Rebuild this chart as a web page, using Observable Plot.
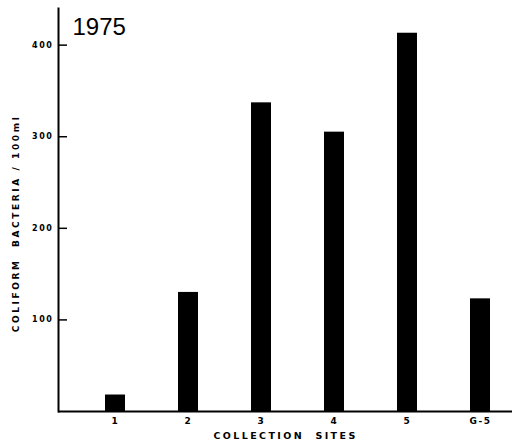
<!DOCTYPE html>
<html>
<head>
<meta charset="utf-8">
<script src="https://cdn.jsdelivr.net/npm/d3@7"></script>
<script src="https://cdn.jsdelivr.net/npm/@observablehq/plot@0.6"></script>
<style>
  html, body { margin: 0; padding: 0; background: #fff; }
  svg { display: block; }
  g[aria-label="y-axis tick label"] text,
  g[aria-label="x-axis tick label"] text { letter-spacing: 1.6px; }
  g[aria-description="ylabel"] text { letter-spacing: 2.6px; }
  g[aria-description="xlabel"] text { letter-spacing: 2.4px; }
</style>
</head>
<body>
<div id="chart"></div>
<script>
const sites = ["1", "2", "3", "4", "5", "G-5"];
const counts = [18, 130, 337, 305, 413, 123];
const yTicks = [100, 200, 300, 400];
const title = "1975";
const yTitle = "COLIFORM  BACTERIA / 100ml";
const xTitle = "COLLECTION  SITES";

const data = sites.map((s, i) => ({site: s, value: counts[i]}));

const font = "'DejaVu Sans', sans-serif";

const chart = Plot.plot({
  width: 518,
  height: 446,
  marginLeft: 58,
  marginRight: 6,
  marginTop: 8,
  marginBottom: 35,
  style: {fontFamily: font, background: "#fff", color: "#000"},
  x: {domain: sites, range: [77.3, 517.7], paddingInner: 0.73, paddingOuter: 0.365},
  y: {domain: [0, 440]},
  marks: [
    Plot.barY(data, {x: "site", y: "value", fill: "#000"}),
    Plot.ruleY([0], {stroke: "#000", strokeWidth: 2}),
    Plot.frame({anchor: "left", stroke: "#000", strokeWidth: 2}),
    Plot.axisY(yTicks, {tickSize: -9, text: null, strokeWidth: 1.5, label: null}),
    Plot.axisY(yTicks, {tickSize: 0, tickPadding: 5, fontSize: 8, fontWeight: "bold", label: null}),
    Plot.axisX({tickSize: 0, tickPadding: 6, fontSize: 9, fontWeight: "bold", label: null}),
    Plot.text([title], {frameAnchor: "top-left", dx: 14, dy: 9, fontSize: 24, textAnchor: "start", lineAnchor: "top", fontFamily: "'Liberation Sans', sans-serif"}),
    Plot.text([yTitle], {frameAnchor: "left", dx: -42, dy: 13.5, rotate: -90, textAnchor: "middle", lineAnchor: "middle", fontSize: 9, fontWeight: "bold", ariaDescription: "ylabel"}),
    Plot.text([xTitle], {frameAnchor: "bottom", dy: 27, fontSize: 9.5, fontWeight: "bold", ariaDescription: "xlabel"})
  ]
});
document.getElementById("chart").appendChild(chart);
</script>
</body>
</html>
